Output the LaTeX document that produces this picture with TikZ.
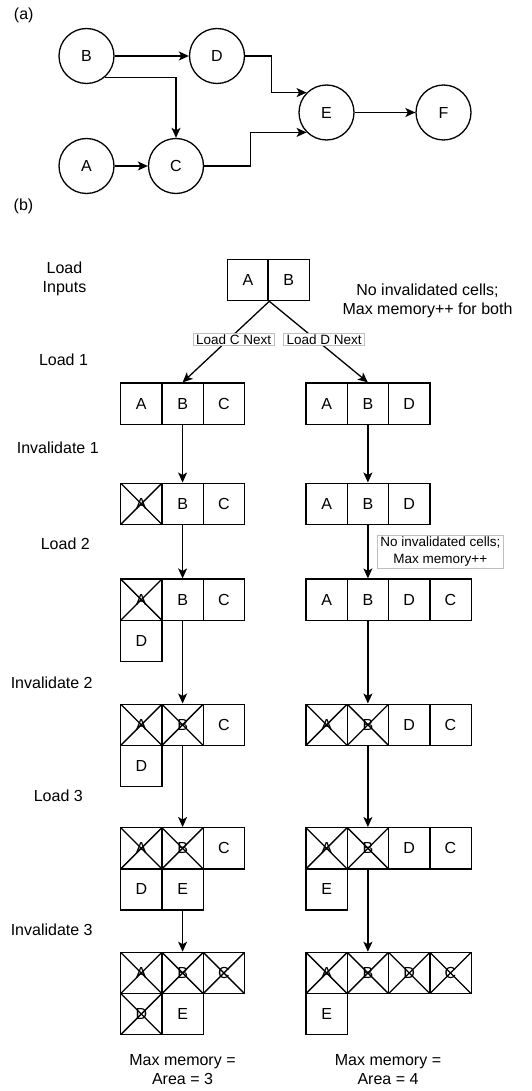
\documentclass[tikz,border=0pt]{standalone}
\usepackage{fontspec}
\setmainfont{Liberation Sans}
\usepackage{tikz}
\usetikzlibrary{arrows.meta,shapes,positioning}
\newcommand{\cellsz}{41.3}
\newcommand{\bigtxt}{\fontsize{16}{18.8}\selectfont}
\newcommand{\smalltxt}{\fontsize{13.5}{17.5}\selectfont}

\begin{document}
\begin{tikzpicture}[x=1pt, y=-1pt, line width=1.3pt,
    vert/.style = {circle, draw, minimum size=55, inner sep=0pt, font=\bigtxt},
    cell/.style = {draw, minimum size=\cellsz, inner sep=0pt, font=\bigtxt},
    gone/.style = {cell, path picture={
        \draw (path picture bounding box.north west) -- (path picture bounding box.south east);
        \draw (path picture bounding box.south west) -- (path picture bounding box.north east);}},
    txt/.style = {inner sep=0pt, align=center, font=\bigtxt},
    elabel/.style = {draw=black!25, line width=0.8pt, fill=white, inner xsep=3pt, inner ysep=1.5pt, align=center, font=\smalltxt},
    arr/.style = {-{Stealth[length=10pt, width=9pt, inset=2.5pt]}}]
    \useasboundingbox (0,0) rectangle (532,1091);
    %\draw[help lines, step=50] (0,0) grid (532,1091);

    % (a) the graph
    \node[txt] (tagA) at (23.7,15) {(a)};
    \foreach \v/\x/\y in {B/86.5/56, D/217/56, A/86.5/166, C/176/166, E/326.5/112.5, F/443.5/112.5}
        \node[vert] (\v) at (\x,\y) {\v};
    \draw[arr] (B) -- (D);
    \draw[arr] (B.-49) -| (C);
    \draw[arr] (A) -- (C);
    \draw[arr] (D.east) -| ([xshift=-35.3pt]E.135) -- (E.135);
    \draw[arr] (C.east) -| ([xshift=-56.3pt]E.225) -- (E.225);
    \draw[arr] (E) -- (F);

    % (b) memory layouts
    \node[txt] (tagB) at (23.5,206.7) {(b)};
    \foreach \n/\x/\y/\t in {stLoad/64.5/279/{Load\\Inputs}, stL1/63.5/360/Load 1, stI1/57.8/447.3/Invalidate 1,
                             stL2/65.3/543.3/Load 2, stI2/51.7/682.7/Invalidate 2, stL3/58.3/796/Load 3,
                             stI3/51.7/930/Invalidate 3}
        \node[txt] (\n) at (\x,\y) {\t};

    \node[cell] (tA) at (248,280) {A};
    \node[cell] (tB) at (288.6,280) {B};
    \node[txt] (both) at (427.5,301) {No invalidated cells;\\Max memory++ for both};

    % left column: load C next
    \foreach \n/\x/\y/\t/\s in {l1A/141.3/403.7/A/cell, l1B/182.6/403.7/B/cell, l1C/223.9/403.7/C/cell,
                                l2A/141.3/503.8/A/gone, l2B/182.6/503.8/B/cell, l2C/223.9/503.8/C/cell,
                                l3A/141.3/599.7/A/gone, l3B/182.6/599.7/B/cell, l3C/223.9/599.7/C/cell,
                                l3D/141.3/640.8/D/cell,
                                l4A/141.3/724.8/A/gone, l4B/182.6/724.8/B/gone, l4C/223.9/724.8/C/cell,
                                l4D/141.3/765.9/D/cell,
                                l5A/141.3/848.3/A/gone, l5B/182.6/848.3/B/gone, l5C/223.9/848.3/C/cell,
                                l5D/141.3/889.4/D/cell, l5E/182.6/889.4/E/cell,
                                l6A/141.3/973/A/gone, l6B/182.6/973/B/gone, l6C/223.9/973/C/gone,
                                l6D/141.3/1014.1/D/gone, l6E/182.6/1014.1/E/cell}
        \node[\s] (\n) at (\x,\y) {\t};

    % right column: load D next
    \foreach \n/\x/\y/\t/\s in {r1A/326.6/403.7/A/cell, r1B/367.9/403.7/B/cell, r1D/409.2/403.7/D/cell,
                                r2A/326.6/503.8/A/cell, r2B/367.9/503.8/B/cell, r2D/409.2/503.8/D/cell,
                                r3A/326.6/599.7/A/cell, r3B/367.9/599.7/B/cell, r3D/409.2/599.7/D/cell,
                                r3C/450.5/599.7/C/cell,
                                r4A/326.6/724.8/A/gone, r4B/367.9/724.8/B/gone, r4D/409.2/724.8/D/cell,
                                r4C/450.5/724.8/C/cell,
                                r5A/326.6/848.3/A/gone, r5B/367.9/848.3/B/gone, r5D/409.2/848.3/D/cell,
                                r5C/450.5/848.3/C/cell, r5E/326.6/889.4/E/cell,
                                r6A/326.6/973/A/gone, r6B/367.9/973/B/gone, r6D/409.2/973/D/gone,
                                r6C/450.5/973/C/gone, r6E/326.6/1014.1/E/cell}
        \node[\s] (\n) at (\x,\y) {\t};

    \draw[arr] (tA.south east) -- node[elabel, pos=0.47, xshift=5pt] {Load C Next} (l1B.north);
    \draw[arr] (tA.south east) -- node[elabel, pos=0.47, xshift=8.5pt] {Load D Next} (r1B.north);
    \foreach \a/\b in {l1B/l2B, l2B/l3B, l3B/l4B, l4B/l5B, l5E/l6B, r1B/r2B, r3B/r4B, r4B/r5B, r5B/r6B}
        \draw[arr] (\a) -- (\b);
    \draw[arr] (r2B) -- node[elabel, anchor=west, xshift=9pt] {No invalidated cells;\\Max memory++} (r3B);

    \node[txt] (areaL) at (182.5,1069.7) {Max memory =\\Area = 3};
    \node[txt] (areaR) at (388,1069.7) {Max memory =\\Area = 4};
\end{tikzpicture}
\end{document}
